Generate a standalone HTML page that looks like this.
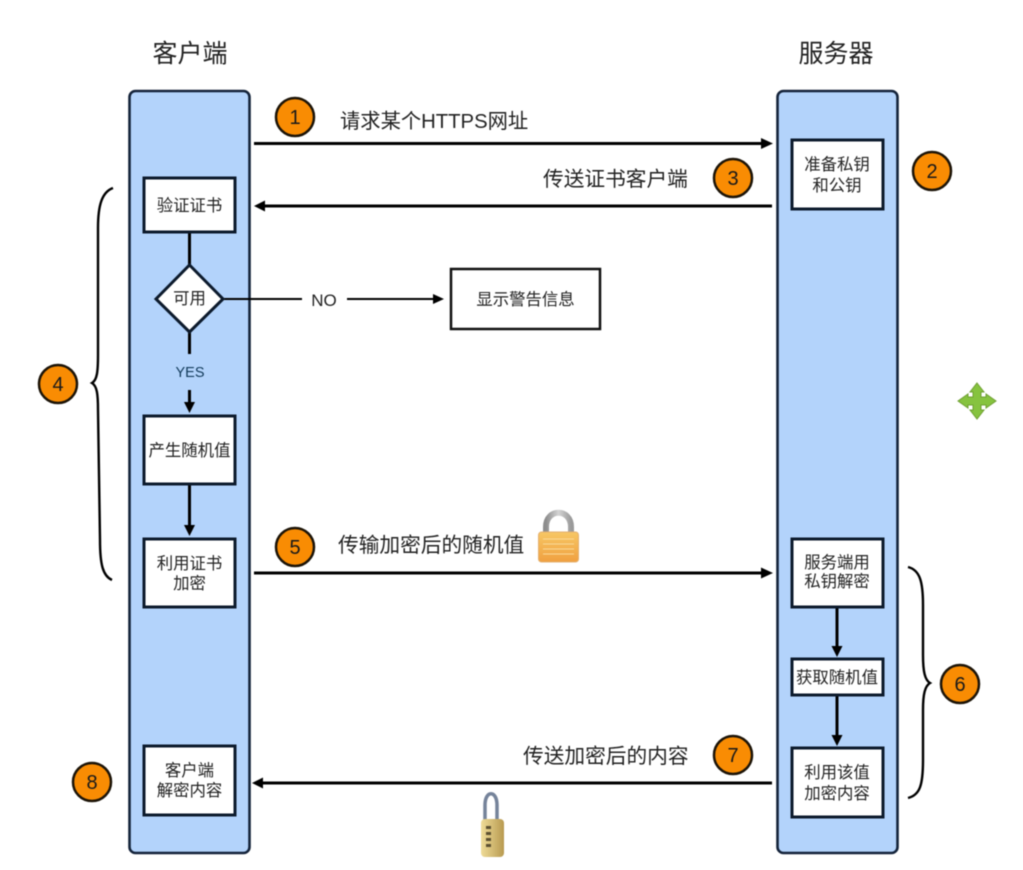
<!DOCTYPE html>
<html>
<head>
<meta charset="utf-8">
<style>
html,body{margin:0;padding:0;background:#fff;width:1023px;height:870px;overflow:hidden}
svg{display:block;filter:blur(.45px)}
text{font-family:"Liberation Sans","Noto Sans CJK SC",sans-serif;fill:#222;text-anchor:middle}
.h{font-size:25px}
.t{font-size:20.7px;text-anchor:start}
.b{font-size:16.4px}
.n{font-size:20px;fill:#1a1a1a}
.box{fill:#fff;stroke:#0c1a2c;stroke-width:3}
.lane{fill:#b3d3fb;stroke:#14233a;stroke-width:2.6}
.l{stroke:#000;stroke-width:3;fill:none}
.brace{stroke:#000;stroke-width:2.4;fill:none}
.c{fill:#f98c03;stroke:#1c1408;stroke-width:2.5}
</style>
</head>
<body>
<svg width="1023" height="870" viewBox="0 0 1023 870" xmlns="http://www.w3.org/2000/svg">
<defs>
<linearGradient id="lockBody" x1="0" y1="0" x2="0" y2="1">
<stop offset="0" stop-color="#f7c765"/><stop offset="1" stop-color="#f0a040"/>
</linearGradient>
<linearGradient id="brass" x1="0" y1="0" x2="1" y2="0">
<stop offset="0" stop-color="#efdc98"/><stop offset="1" stop-color="#b89a50"/>
</linearGradient>
<linearGradient id="shackle" x1="0" y1="0" x2="1" y2="0">
<stop offset="0" stop-color="#8d8d8d"/><stop offset=".5" stop-color="#d4d4d4"/><stop offset="1" stop-color="#9a9a9a"/>
</linearGradient>
</defs>

<text class="h" x="190" y="62">客户端</text>
<text class="h" x="836" y="62">服务器</text>

<rect class="lane" x="129.500" y="91" width="120" height="762" rx="6"/>
<rect class="lane" x="777.500" y="91" width="120" height="762" rx="6"/>

<!-- main arrows -->
<line class="l" x1="254" y1="143.500" x2="762" y2="143.500"/>
<polygon points="773,143.500 761,138 761,149"/>
<line class="l" x1="772" y1="206" x2="264" y2="206"/>
<polygon points="254,206 265,200.500 265,211.500"/>
<line class="l" x1="254" y1="573" x2="762" y2="573"/>
<polygon points="773,573 761,567.500 761,578.500"/>
<line class="l" x1="772" y1="783" x2="262" y2="783"/>
<polygon points="252,783 263,777.500 263,788.500"/>

<!-- client flow -->
<line class="l" x1="189.500" y1="232" x2="189.500" y2="266"/>
<line class="l" x1="189.500" y1="332" x2="189.500" y2="354"/>
<line class="l" x1="189.500" y1="390" x2="189.500" y2="404"/>
<polygon points="189.500,413 184,402 195,402"/>
<line class="l" x1="189.500" y1="484" x2="189.500" y2="526"/>
<polygon points="189.500,536 184,525 195,525"/>
<line class="l" style="stroke-width:2" x1="222" y1="299" x2="302" y2="299"/>
<line class="l" style="stroke-width:2" x1="347" y1="299" x2="434" y2="299"/>
<polygon points="444,299 433,294 433,304"/>

<rect class="box" x="144" y="178" width="91" height="54"/>
<polygon class="box" points="189.500,265 223,299 189.500,332 156,299"/>
<rect class="box" x="144" y="416" width="91" height="68"/>
<rect class="box" x="144" y="539" width="91" height="68"/>
<rect class="box" x="144" y="746" width="91" height="69"/>
<rect x="451" y="269" width="149" height="60" fill="#fff" stroke="#111" stroke-width="2.500"/>

<!-- server flow -->
<line class="l" x1="837" y1="607" x2="837" y2="647"/>
<polygon points="837,657 831.500,646 842.500,646"/>
<line class="l" x1="837" y1="696" x2="837" y2="736"/>
<polygon points="837,746 831.500,735 842.500,735"/>
<rect class="box" x="792" y="140" width="91" height="69"/>
<rect class="box" x="792" y="539" width="91" height="68"/>
<rect class="box" x="792" y="659" width="91" height="36"/>
<rect class="box" x="792" y="748" width="91" height="69"/>

<!-- braces -->
<path class="brace" d="M113,188 C102,192 98,205 98,228 L98,355 C98,372 97,380 92,383 C97,386 98,394 98,410 L100,540 C100,565 103,576 112,580"/>
<path class="brace" d="M908,567 C920,570 923,582 923,605 L923,655 C923,672 925,680 930,683 C925,686 923,694 923,710 L923,760 C923,785 920,795 908,798"/>

<!-- box labels -->
<text class="b" x="189.500" y="211">验证证书</text>
<text class="b" x="189.500" y="304">可用</text>
<text class="b" x="189.500" y="456">产生随机值</text>
<text class="b" x="189.500" y="569">利用证书</text>
<text class="b" x="189.500" y="589">加密</text>
<text class="b" x="189.500" y="776">客户端</text>
<text class="b" x="189.500" y="796">解密内容</text>
<text class="b" x="525.500" y="305">显示警告信息</text>
<text class="b" x="837" y="170">准备私钥</text>
<text class="b" x="837" y="191">和公钥</text>
<text class="b" x="837" y="568">服务端用</text>
<text class="b" x="837" y="587">私钥解密</text>
<text class="b" x="837" y="683">获取随机值</text>
<text class="b" x="837" y="778">利用该值</text>
<text class="b" x="837" y="799">加密内容</text>

<text x="324" y="306" style="font-size:17px">NO</text>
<text x="190" y="377" style="font-size:14.5px;fill:#123a5a">YES</text>

<!-- edge labels -->
<text class="t" x="340" y="128" style="font-size:20.3px">请求某个HTTPS网址</text>
<text class="t" x="543" y="186">传送证书客户端</text>
<text class="t" x="338" y="552">传输加密后的随机值</text>
<text class="t" x="523" y="763">传送加密后的内容</text>

<!-- numbered circles -->
<circle class="c" cx="295" cy="117" r="19"/><text class="n" x="295" y="124">1</text>
<circle class="c" cx="932" cy="171" r="19"/><text class="n" x="932" y="178">2</text>
<circle class="c" cx="733" cy="178" r="19"/><text class="n" x="733" y="185">3</text>
<circle class="c" cx="58" cy="384" r="19"/><text class="n" x="58" y="391">4</text>
<circle class="c" cx="295" cy="547" r="19"/><text class="n" x="295" y="554">5</text>
<circle class="c" cx="960" cy="684" r="19"/><text class="n" x="960" y="691">6</text>
<circle class="c" cx="733" cy="755" r="19"/><text class="n" x="733" y="762">7</text>
<circle class="c" cx="92" cy="782" r="19"/><text class="n" x="92" y="789">8</text>

<!-- gold lock -->
<path d="M546,535 L546,527 C546,508 571,508 571,527 L571,535" fill="none" stroke="url(#shackle)" stroke-width="6"/>
<rect x="538.500" y="532" width="40" height="30" rx="3" fill="url(#lockBody)" stroke="#e4b070"/>
<g stroke="#fad998" stroke-width="1"><line x1="543" y1="539" x2="574" y2="539"/><line x1="543" y1="544" x2="574" y2="544"/><line x1="543" y1="549" x2="574" y2="549"/><line x1="543" y1="554" x2="574" y2="554"/></g>

<!-- brass combination lock -->
<path d="M485,822 L485,805 C485,790 497,790 497,805 L497,822" fill="none" stroke="#75839a" stroke-width="3.500"/>
<rect x="481" y="819" width="23" height="38" rx="4" fill="url(#brass)"/>
<g fill="#5c5030"><rect x="486" y="826" width="5" height="3"/><rect x="486" y="832" width="5" height="3"/><rect x="486" y="838" width="5" height="3"/><rect x="486" y="844" width="5" height="3"/></g>

<!-- green move cross -->
<polygon points="977,383 984,392 981,392 981,397 986,397 986,394 996,401 986,408 986,405 981,405 981,410 984,410 977,419 970,410 973,410 973,405 968,405 968,408 958,401 968,394 968,397 973,397 973,392 970,392" fill="#86c33f" stroke="#6fa032" stroke-width="1"/>
</svg>
</body>
</html>
